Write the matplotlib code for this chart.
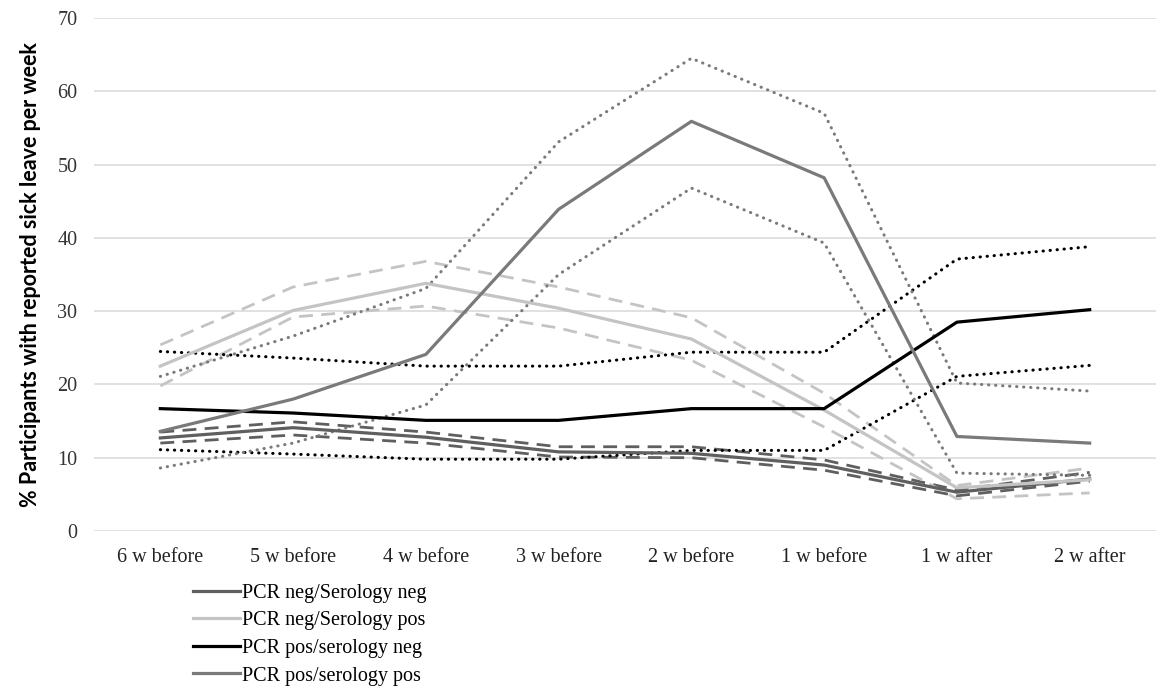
import numpy as np
import matplotlib
matplotlib.use("Agg")
import matplotlib.pyplot as plt

weeks = ["6 w before", "5 w before", "4 w before", "3 w before",
         "2 w before", "1 w before", "1 w after", "2 w after"]

# PCR neg / Serology neg
nn_mean = [12.7, 14.1, 12.8, 10.8, 10.6, 9.0, 5.3, 7.1]
nn_hi = [13.5, 14.9, 13.5, 11.5, 11.5, 9.7, 5.6, 8.0]
nn_lo = [12.0, 13.1, 12.0, 10.1, 10.0, 8.3, 4.8, 6.8]

# PCR neg / Serology pos
np_mean = [22.5, 30.1, 33.8, 30.4, 26.2, 16.5, 5.9, 7.0]
np_hi = [25.4, 33.3, 36.8, 33.3, 29.1, 18.8, 6.2, 8.6]
np_lo = [19.8, 29.2, 30.7, 27.7, 23.3, 14.2, 4.4, 5.2]

# PCR pos / serology neg
pn_mean = [16.7, 16.1, 15.1, 15.1, 16.7, 16.7, 28.5, 30.2]
pn_hi = [24.5, 23.6, 22.5, 22.5, 24.4, 24.4, 37.1, 38.8]
pn_lo = [11.1, 10.5, 9.8, 9.8, 11.0, 11.0, 21.1, 22.6]

# PCR pos / serology pos
pp_mean = [13.6, 18.0, 24.1, 43.9, 55.9, 48.2, 12.9, 12.0]
pp_hi = [21.1, 26.6, 33.1, 53.1, 64.5, 57.0, 20.2, 19.1]
pp_lo = [8.6, 12.0, 17.2, 35.0, 46.8, 39.3, 7.9, 7.6]

labels = ["PCR neg/Serology neg", "PCR neg/Serology pos",
          "PCR pos/serology neg", "PCR pos/serology pos"]

serif = "Liberation Serif"

fig = plt.figure(figsize=(11.6, 6.9), dpi=100)
ax = fig.add_axes([0.081, 0.2304, 0.9156, 0.7435])

x = np.arange(len(weeks))
dot = (0, (0.1, 2.2))
dash = (0, (5, 3))

groups = [
    (nn_mean, nn_hi, nn_lo, "#5f5f5f", dash),
    (np_mean, np_hi, np_lo, "#c4c4c4", dash),
    (pn_mean, pn_hi, pn_lo, "#000000", dot),
    (pp_mean, pp_hi, pp_lo, "#7a7a7a", dot),
]

handles = []
for (m, hi, lo, col, ls), lab in zip(groups, labels):
    for b in (hi, lo):
        if ls is dot:
            ax.plot(x, b, color=col, lw=2.2, linestyle=ls,
                    dash_capstyle="round", zorder=2)
        else:
            ax.plot(x, b, color=col, lw=2.0, linestyle=ls, zorder=2)
    h, = ax.plot(x, m, color=col, lw=2.3, zorder=3, label=lab)
    handles.append(h)

ax.set_xlim(-0.5, len(weeks) - 0.5)
ax.set_ylim(0, 70)
ax.set_yticks(np.arange(0, 71, 10))
ax.set_xticks(x)
ax.set_xticklabels(weeks, fontfamily=serif, fontsize=14.5)
for t in ax.get_yticklabels():
    t.set_fontfamily(serif)
    t.set_fontsize(14.5)
ax.tick_params(axis="y", length=0, pad=12, colors="#333333")
ax.tick_params(axis="x", length=0, pad=12, colors="#222222")
ax.grid(axis="y", color="#dcdcdc", lw=1.2)
ax.set_axisbelow(True)
for s in ax.spines.values():
    s.set_visible(False)

ax.set_ylabel("% Participants with reported sick leave per week",
              fontfamily="Lato", fontweight="bold", fontsize=15.5, labelpad=12)

fig.legend(handles=handles, loc="upper left", bbox_to_anchor=(0.1664, 0.154),
           frameon=False, prop={"family": serif, "size": 14.5},
           handlelength=2.35, handletextpad=0.1, labelspacing=0.42,
           borderaxespad=0, borderpad=0)

fig.savefig("out.png", dpi=100, facecolor="white")
